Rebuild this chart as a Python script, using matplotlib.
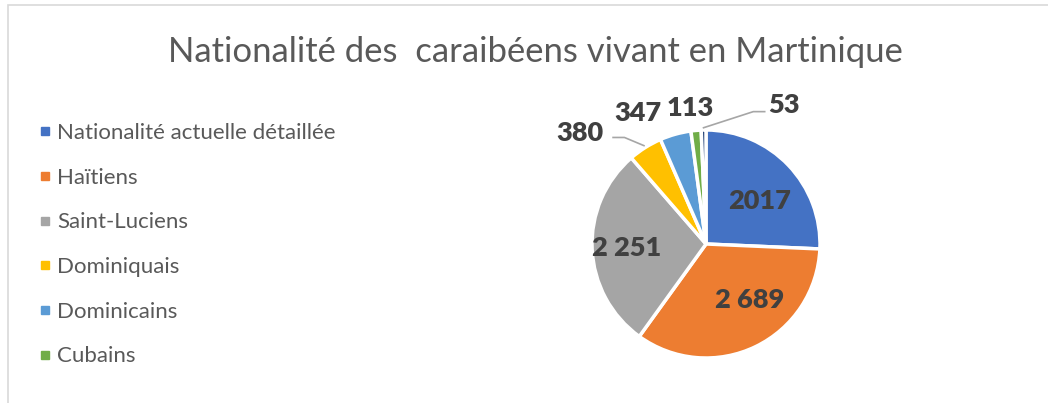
import numpy as np
import matplotlib.pyplot as plt
from matplotlib.lines import Line2D
from matplotlib.patches import Rectangle

# --- data ---
categories = ["Nationalité actuelle détaillée", "Haïtiens", "Saint-Luciens",
              "Dominiquais", "Dominicains", "Cubains"]
values = [2017, 2689, 2251, 380, 347, 113, 53]
value_labels = ["2017", "2 689", "2 251", "380", "347", "113", "53"]
colors = ["#4472C4", "#ED7D31", "#A5A5A5", "#FFC000", "#5B9BD5", "#70AD47", "#264478"]

# label layout: (radius, angle shift in deg ccw, inside?)
label_layout = [(0.6, -5, True), (0.62, 12, True), (0.7, 0, True),
                (1.47, 16.5, False), (1.3, 12, False), (1.2, 1.5, False), (1.4, -30.5, False)]

plt.rcParams['font.family'] = ['Lato', 'DejaVu Sans']

W, H = 1048, 403
fig = plt.figure(figsize=(W / 100, H / 100), dpi=100)

# chart frame
fig.patches.append(Rectangle((8 / W, -0.05), 1.2, 1 - 5 / H + 0.05, transform=fig.transFigure,
                             fill=False, edgecolor="#D9D9D9", lw=1.2))

fig.text(535 / W, 1 - 52 / H, "Nationalité des  caraibéens vivant en Martinique",
         ha="center", va="center", fontsize=24.9, color="#595959")

# pie axes centred on (706, 244) px, radius 114 px
r_px = 114
cx, cy = 706, H - 244
aw, ah = 400, 300
ax = fig.add_axes([(cx - aw / 2) / W, (cy - ah / 2) / H, aw / W, ah / H])
wedges, _ = ax.pie(values, colors=colors, startangle=90, counterclock=False, radius=1,
                   wedgeprops=dict(edgecolor="white", linewidth=2.5))
ax.set_xlim(-aw / 2 / r_px, aw / 2 / r_px)
ax.set_ylim(-ah / 2 / r_px, ah / 2 / r_px)
ax.set_aspect("equal")
ax.axis("off")

total = sum(values)
cum = np.cumsum([0] + values)
for i, v in enumerate(values):
    mid = (cum[i] + cum[i + 1]) / 2 / total * 360  # clockwise from top
    rad, shift, inside = label_layout[i]
    a = np.deg2rad(90 - mid + shift)
    x, y = rad * np.cos(a), rad * np.sin(a)
    ax.text(x, y, value_labels[i], ha="center", va="center", fontsize=19.5,
            fontweight="heavy", color="#404040")
    if not inside:
        am = np.deg2rad(90 - mid)
        ex, ey = 1.02 * np.cos(am), 1.02 * np.sin(am)
        if i == 3:
            ax.plot([x + 0.29, x + 0.39, ex], [y - 0.035, y - 0.035, ey], color="#A6A6A6", lw=1.2)
        elif i == 6:
            ax.plot([x - 0.17, x - 0.27, ex], [y - 0.06, y - 0.06, ey], color="#A6A6A6", lw=1.2)

handles = [Line2D([], [], marker="s", linestyle="none", markersize=5.5,
                  markerfacecolor=colors[i], markeredgecolor=colors[i]) for i in range(len(categories))]
fig.legend(handles, categories, loc="upper left", bbox_to_anchor=(18 / W, 1 - 103 / H),
           frameon=False, fontsize=16, labelspacing=1.11, handletextpad=0.25,
           handlelength=0.6, labelcolor="#595959")

fig.savefig("out.png", dpi=100)
